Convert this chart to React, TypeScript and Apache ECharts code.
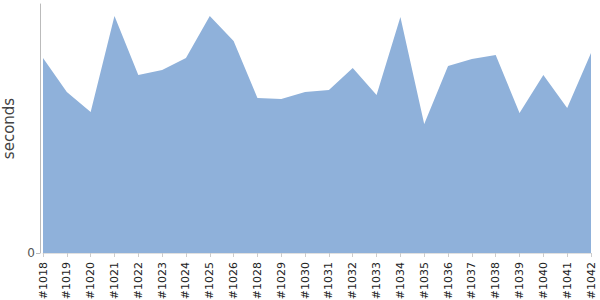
import React, { useEffect, useRef } from "react";
import * as echarts from "echarts";

const builds = ["#1018","#1019","#1020","#1021","#1022","#1023","#1024","#1025","#1026","#1028","#1029","#1030","#1031","#1032","#1033","#1034","#1035","#1036","#1037","#1038","#1039","#1040","#1041","#1042"];
const durations = [195,161,141,237,178,183,195,237,212,155,154,161,163,185,158,236,129,187,194,198,140,178,145,200];
const yTicks = [0];

export default function App() {
  const ref = useRef<HTMLDivElement>(null);
  useEffect(() => {
    const chart = echarts.init(ref.current!, null, { renderer: "svg" });
    chart.setOption({
      animation: false,
      grid: { left: 43, right: 9, top: 4, bottom: 47, containLabel: false, outerBoundsMode: "none" },
      xAxis: {
        type: "category",
        data: builds,
        boundaryGap: false,
        offset: 3,
        axisLine: { show: true, lineStyle: { color: "#e0e0e0", width: 1 } },
        axisTick: { show: true, alignWithLabel: true, length: 4, lineStyle: { color: "#cccccc" } },
        axisLabel: { rotate: 90, interval: 0, fontSize: 11, color: "#222", fontFamily: "DejaVu Sans", margin: 6 },
        splitLine: { show: false },
      },
      yAxis: {
        type: "value",
        min: 0,
        max: 249,
        offset: 3,
        name: "seconds",
        nameLocation: "middle",
        nameGap: 16,
        nameTextStyle: { fontSize: 15, color: "#444", fontFamily: "DejaVu Sans" },
        axisLine: { show: true, lineStyle: { color: "#bbbbbb", width: 1 } },
        axisTick: { show: true, length: 4, lineStyle: { color: "#bbbbbb" }, customValues: yTicks },
        axisLabel: { fontSize: 12, color: "#555", fontFamily: "DejaVu Sans", margin: 5, customValues: yTicks },
        splitLine: { show: false },
      },
      series: [
        {
          type: "line",
          data: durations,
          showSymbol: false,
          symbol: "none",
          lineStyle: { width: 0 },
          areaStyle: { color: "#8fb1da", opacity: 1 },
        },
      ],
    });
    return () => chart.dispose();
  }, []);
  return <div ref={ref} style={{ width: 600, height: 300, position: "absolute", left: 0, top: 0 }} />;
}
